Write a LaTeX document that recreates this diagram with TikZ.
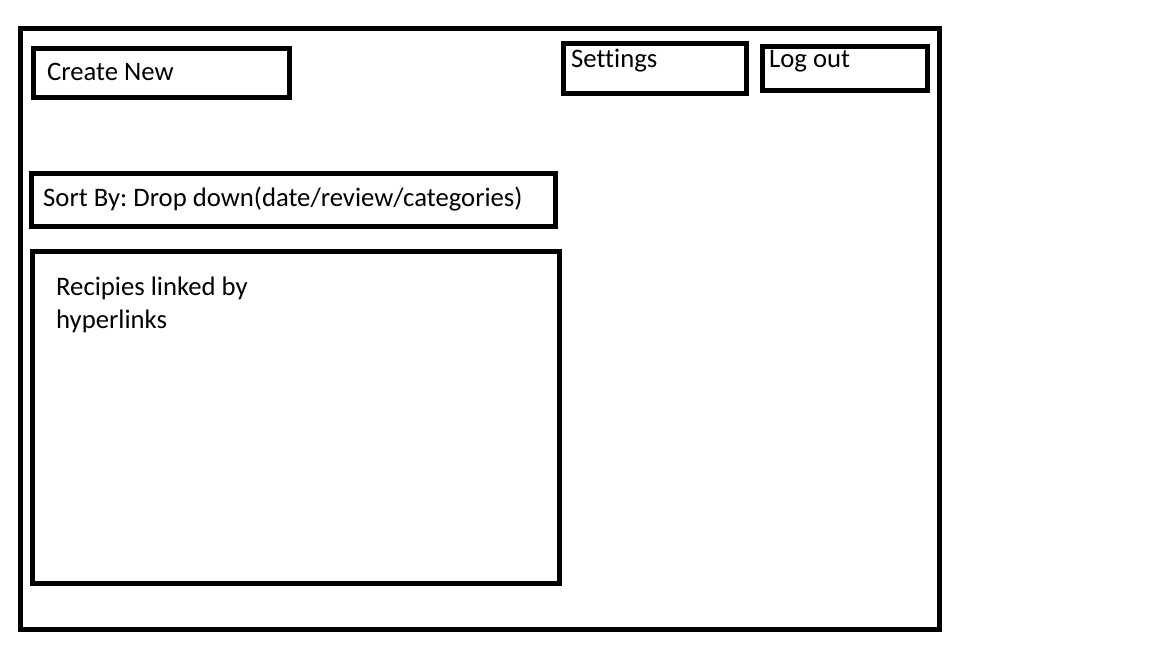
\documentclass[tikz,border=0pt]{standalone}
\usepackage{fontspec}
\setmainfont[Ligatures=NoCommon]{Carlito}
\frenchspacing
\tikzset{
  panel/.style={draw,rectangle,line width=5,anchor=north west,inner sep=0,outer sep=0},
  caption/.style={anchor=base west,inner sep=0,font=\fontsize{26.7}{33}\selectfont}
}
\begin{document}
\begin{tikzpicture}[x=1pt,y=-1pt]
        \useasboundingbox (0,0) rectangle (1152,648);
        \node[panel,minimum width=919.5,minimum height=601.5] (page) at (20,28) {};
        \node[panel,minimum width=256,minimum height=49] (create) at (33.5,48) {};
        \node[panel,minimum width=183,minimum height=50] (settings) at (563,43) {};
        \node[panel,minimum width=165,minimum height=44] (logout) at (762.5,46) {};
        \node[panel,minimum width=524,minimum height=52.5] (sort) at (31,173.5) {};
        \node[panel,minimum width=526.5,minimum height=332.5] (recipes) at (32.5,251) {};
        \node[caption] (createtext) at (47,80) {Create New};
        \node[caption] (settingstext) at (571,67.5) {Settings};
        \node[caption] (logouttext) at (769,67.5) {Log out};
        \node[caption] (sorttext) at (43,206) {Sort By: Drop down(date/review/categories)};
        \node[caption] (recipestext) at (56,295.5) {Recipies linked by};
        \node[caption] (linkstext) at (56,328) {hyperlinks};
\end{tikzpicture}
\end{document}
